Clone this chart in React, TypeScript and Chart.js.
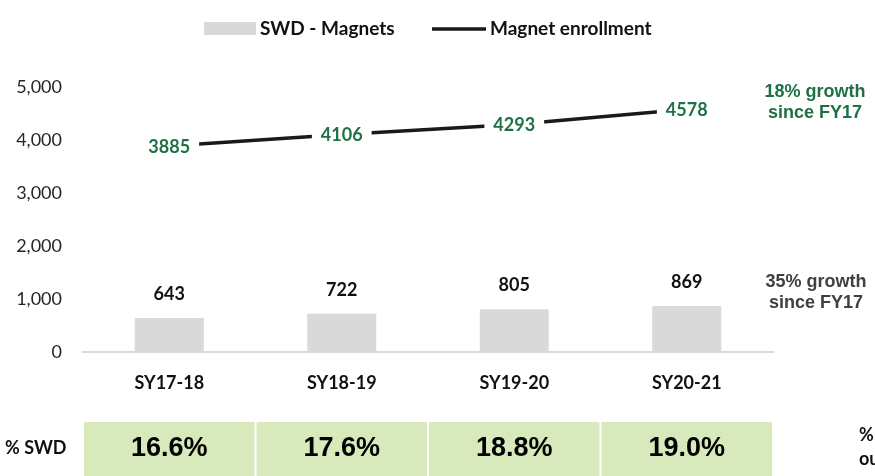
import React, { useEffect, useRef } from "react";
import { Chart, registerables } from "chart.js";

Chart.register(...registerables);

const categories = ["SY17-18", "SY18-19", "SY19-20", "SY20-21"];
const swdMagnets = [643, 722, 805, 869];
const magnetEnrollment = [3885, 4106, 4293, 4578];
const swdPct = ["16.6%", "17.6%", "18.8%", "19.0%"];
const yMax = 5000;
const yStep = 1000;
const enrollmentNote = ["18% growth", "since FY17"];
const swdNote = ["35% growth", "since FY17"];
const rowLabel = "% SWD";
const rightRowLabel = ["%", "out of"];

const FONT = "Lato, 'Open Sans', sans-serif";
const GREEN = "#1e7145";

const extrasPlugin = {
  id: "extras",
  afterDatasetsDraw(chart: any) {
    const ctx = chart.ctx;
    const barMeta = chart.getDatasetMeta(0);
    const lineMeta = chart.getDatasetMeta(1);
    ctx.save();
    ctx.font = `bold 18px ${FONT}`;
    ctx.fillStyle = "#111111";
    ctx.textAlign = "center";
    ctx.textBaseline = "middle";
    barMeta.data.forEach((el: any, i: number) => {
      ctx.fillText(String(swdMagnets[i]), el.x, el.y - 24);
    });
    lineMeta.data.forEach((el: any, i: number) => {
      const t = String(magnetEnrollment[i]);
      const w = ctx.measureText(t).width;
      ctx.fillStyle = "#ffffff";
      ctx.fillRect(el.x - w / 2 - 9, el.y - 12, w + 18, 24);
      ctx.fillStyle = GREEN;
      ctx.fillText(t, el.x, el.y + 1);
    });
    ctx.restore();
  },
  afterDraw(chart: any) {
    const ctx = chart.ctx;
    const xs = chart.scales.x;
    const ds = chart.data.datasets;
    ctx.save();
    ctx.textBaseline = "middle";
    ctx.textAlign = "left";
    ctx.font = `bold 19px ${FONT}`;
    ctx.fillStyle = ds[0].backgroundColor;
    ctx.fillRect(204, 22, 52, 13);
    ctx.fillStyle = "#111111";
    ctx.fillText(ds[0].label, 260, 29);
    ctx.strokeStyle = ds[1].borderColor;
    ctx.lineWidth = 3.5;
    ctx.beginPath();
    ctx.moveTo(432, 29);
    ctx.lineTo(486, 29);
    ctx.stroke();
    ctx.fillText(ds[1].label, 490, 29);

    ctx.textAlign = "center";
    ctx.font = `bold 18px 'Liberation Sans', Arial, sans-serif`;
    ctx.fillStyle = GREEN;
    ctx.fillText(enrollmentNote[0], 815, 92);
    ctx.fillText(enrollmentNote[1], 815, 113);
    ctx.fillStyle = "#404040";
    ctx.fillText(swdNote[0], 816, 282);
    ctx.fillText(swdNote[1], 816, 303);

    const half = (xs.right - xs.left) / categories.length / 2;
    categories.forEach((_, i) => {
      const cx = xs.getPixelForValue(i);
      ctx.fillStyle = "#d8e9bc";
      ctx.fillRect(cx - half + 1, 422, half * 2 - 2, 60);
      ctx.fillStyle = "#000000";
      ctx.font = `bold 27px 'Liberation Sans', Arial, sans-serif`;
      ctx.textAlign = "center";
      ctx.fillText(swdPct[i], cx, 449);
    });
    ctx.font = `bold 18px ${FONT}`;
    ctx.fillStyle = "#111111";
    ctx.textAlign = "left";
    ctx.fillText(rowLabel, 5, 448);
    ctx.fillText(rightRowLabel[0], 859, 435);
    ctx.fillText(rightRowLabel[1], 859, 459);
    ctx.restore();
  },
};

export default function App() {
  const ref = useRef<HTMLCanvasElement>(null);
  useEffect(() => {
    document.body.style.margin = "0";
    if (!ref.current) return;
    const chart = new Chart(ref.current, {
      type: "bar",
      data: {
        labels: categories,
        datasets: [
          {
            type: "bar",
            label: "SWD - Magnets",
            data: swdMagnets,
            backgroundColor: "#d9d9d9",
            barPercentage: 0.4,
            categoryPercentage: 1,
            order: 2,
          },
          {
            type: "line",
            label: "Magnet enrollment",
            data: magnetEnrollment,
            borderColor: "#1a1a1a",
            borderWidth: 3.5,
            pointRadius: 0,
            tension: 0,
            order: 1,
          } as any,
        ],
      },
      options: {
        responsive: false,
        animation: false,
        layout: { padding: { top: 87, right: 102, left: 0, bottom: 0 } },
        plugins: {
          legend: { display: false },
          tooltip: { enabled: false },
        },
        scales: {
          x: {
            grid: { display: false, drawTicks: false },
            border: { display: true, color: "#d9d9d9", width: 2 },
            ticks: {
              color: "#111111",
              font: { family: FONT, size: 18, weight: "bold" },
              padding: 20,
            },
            afterFit(scale: any) {
              scale.height = 124;
            },
          },
          y: {
            min: 0,
            max: yMax,
            grid: { display: false, drawTicks: false },
            border: { display: false },
            ticks: {
              stepSize: yStep,
              color: "#262626",
              font: { family: FONT, size: 18 },
              padding: 21,
              callback: (v: any) => Number(v).toLocaleString("en-US"),
            },
            afterFit(scale: any) {
              scale.width = 83;
            },
          },
        },
      },
      plugins: [extrasPlugin],
    });
    return () => chart.destroy();
  }, []);
  return (
    <div style={{ width: 875, height: 476, position: "relative" }}>
      <canvas ref={ref} width={875} height={476} style={{ display: "block" }} />
    </div>
  );
}
